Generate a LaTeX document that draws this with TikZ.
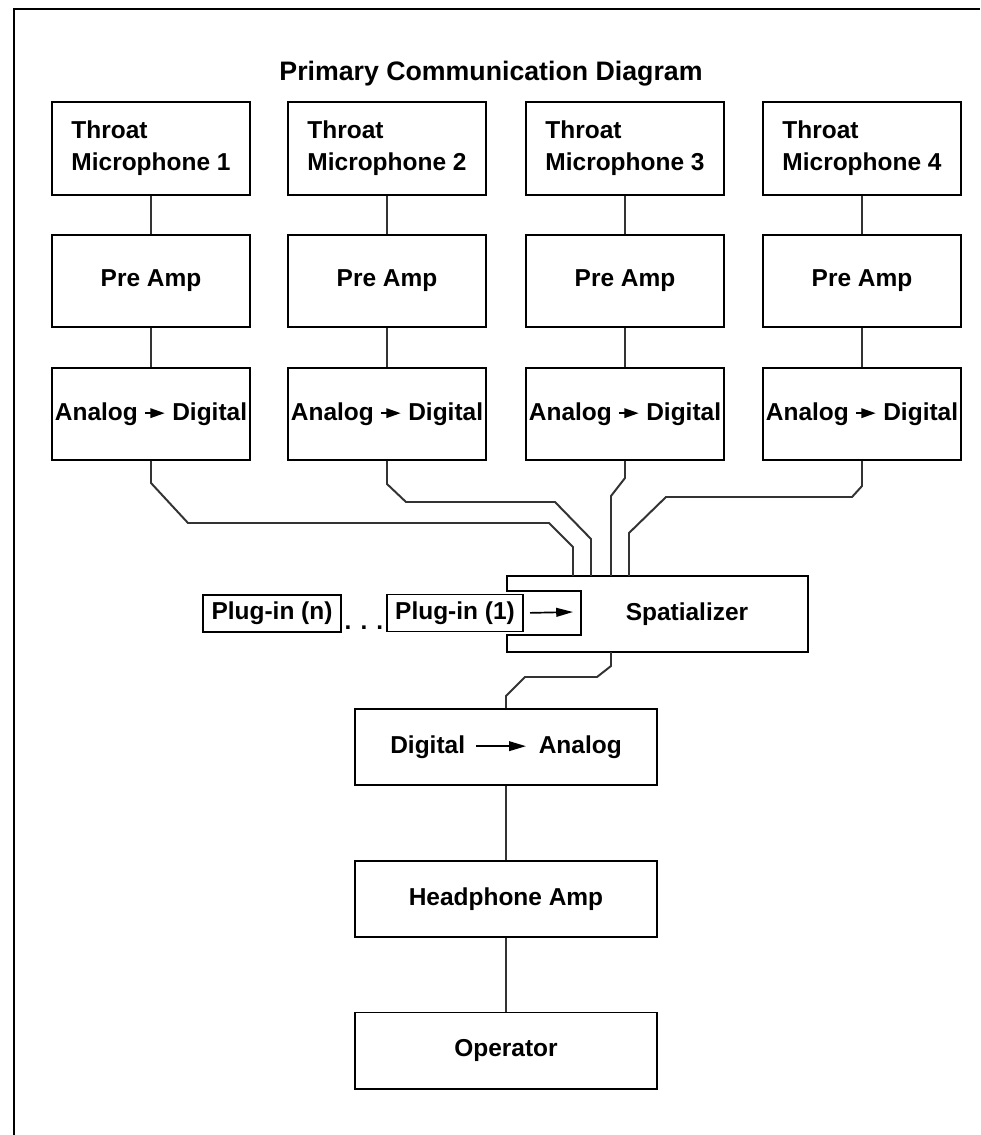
\documentclass[tikz,border=0pt]{standalone}
\usepackage{fontspec}
\setmainfont{Liberation Sans}
\usetikzlibrary{arrows.meta}

\newcommand{\sigarrow}[2]{\tikz[baseline=-0.55ex]\draw[line width=1.2pt,-{Triangle[length=#2,width=0.24cm]}] (0,0) -- (#1,0);}

\begin{document}
\begin{tikzpicture}[x=0.025cm,y=-0.025cm,
		txt/.style={font=\bfseries\fontsize{17.4}{22.7}\selectfont},
		box/.style={txt,draw,line width=1.4pt,inner sep=1pt,minimum width=4.95cm,minimum height=2.3cm},
		mic/.style={box,align=left,minimum height=2.325cm},
		wide/.style={box,minimum width=7.55cm,minimum height=1.9cm},
		plug/.style={box,minimum width=3.4cm,minimum height=0.925cm},
		wire/.style={line width=1.4pt,black!80}]
			\useasboundingbox (0,0) rectangle (980,1135);
			\draw[line width=1.4pt] (14,1135) -- (14,9) -- (980,9);
			\node[txt,font=\bfseries\fontsize{19}{23}\selectfont] (title) at (491,74) {Primary Communication Diagram};
			
			\node[mic] (mic1) at (151,148.5) {Throat\\Microphone 1};
			\node[mic] (mic2) at (387,148.5) {Throat\\Microphone 2};
			\node[mic] (mic3) at (625,148.5) {Throat\\Microphone 3};
			\node[mic] (mic4) at (862,148.5) {Throat\\Microphone 4};
			
			\node[box] (pre1) at (151,281) {Pre Amp}; \draw[wire] (mic1) -- (pre1);
			\node[box] (pre2) at (387,281) {Pre Amp}; \draw[wire] (mic2) -- (pre2);
			\node[box] (pre3) at (625,281) {Pre Amp}; \draw[wire] (mic3) -- (pre3);
			\node[box] (pre4) at (862,281) {Pre Amp}; \draw[wire] (mic4) -- (pre4);
			
			\node[box] (ad1) at (151,414) {Analog \sigarrow{0.48cm}{0.36cm} Digital}; \draw[wire] (pre1) -- (ad1);
			\node[box] (ad2) at (387,414) {Analog \sigarrow{0.48cm}{0.36cm} Digital}; \draw[wire] (pre2) -- (ad2);
			\node[box] (ad3) at (625,414) {Analog \sigarrow{0.48cm}{0.36cm} Digital}; \draw[wire] (pre3) -- (ad3);
			\node[box] (ad4) at (862,414) {Analog \sigarrow{0.48cm}{0.36cm} Digital}; \draw[wire] (pre4) -- (ad4);
			
			\node[txt] (spat) at (687,614) {Spatializer};
			\draw[line width=1.4pt] (507,576) -- (808,576) -- (808,652) -- (507,652) -- (507,635) -- (581,635) -- (581,591) -- (507,591) -- cycle;
			\coordinate (in1) at (573,576); \coordinate (in2) at (591,576);
			\coordinate (in3) at (611,576); \coordinate (in4) at (629,576);
			\coordinate (out) at (611,652);
			
			\draw[wire] (ad1.south) -- ++(0,22) -- (188,523) -- (549,523) -- (573,547) -- (in1);
			\draw[wire] (ad2.south) -- ++(0,23) -- (406,502) -- (555,502) -- (591,539) -- (in2);
			\draw[wire] (ad3.south) -- ++(0,17) -- (611,496) -- (in3);
			\draw[wire] (ad4.south) -- ++(0,25) -- (852,497) -- (666,497) -- (629,533) -- (in4);
			
			\node[plug,minimum width=3.45cm] (plugn) at (272,613.5) {Plug-in (n)};
			\node[txt,anchor=base] (dots) at (364,629) {. . .};
			\node[plug] (plug1) at (455,613) {Plug-in (1)};
			\coordinate (pin) at (573,612);
			\draw[line width=1.2pt,-{Triangle[length=0.42cm,width=0.22cm]},shorten <=0.15cm] (plug1.east) -- (pin);
			
			\node[wide] (da) at (506,747) {Digital\hspace{0.25cm}\sigarrow{1.25cm}{0.42cm}\hspace{0.3cm}Analog};
			\draw[wire] (out) -- (611,666) -- (597,677) -- (525,677) -- (506,696) -- (da.north);
			\node[wide] (hamp) at (506,899) {Headphone Amp}; \draw[wire] (da) -- (hamp);
			\node[wide] (oper) at (506,1050.5) {Operator}; \draw[wire] (hamp) -- (oper);
			\end{tikzpicture}
\end{document}
